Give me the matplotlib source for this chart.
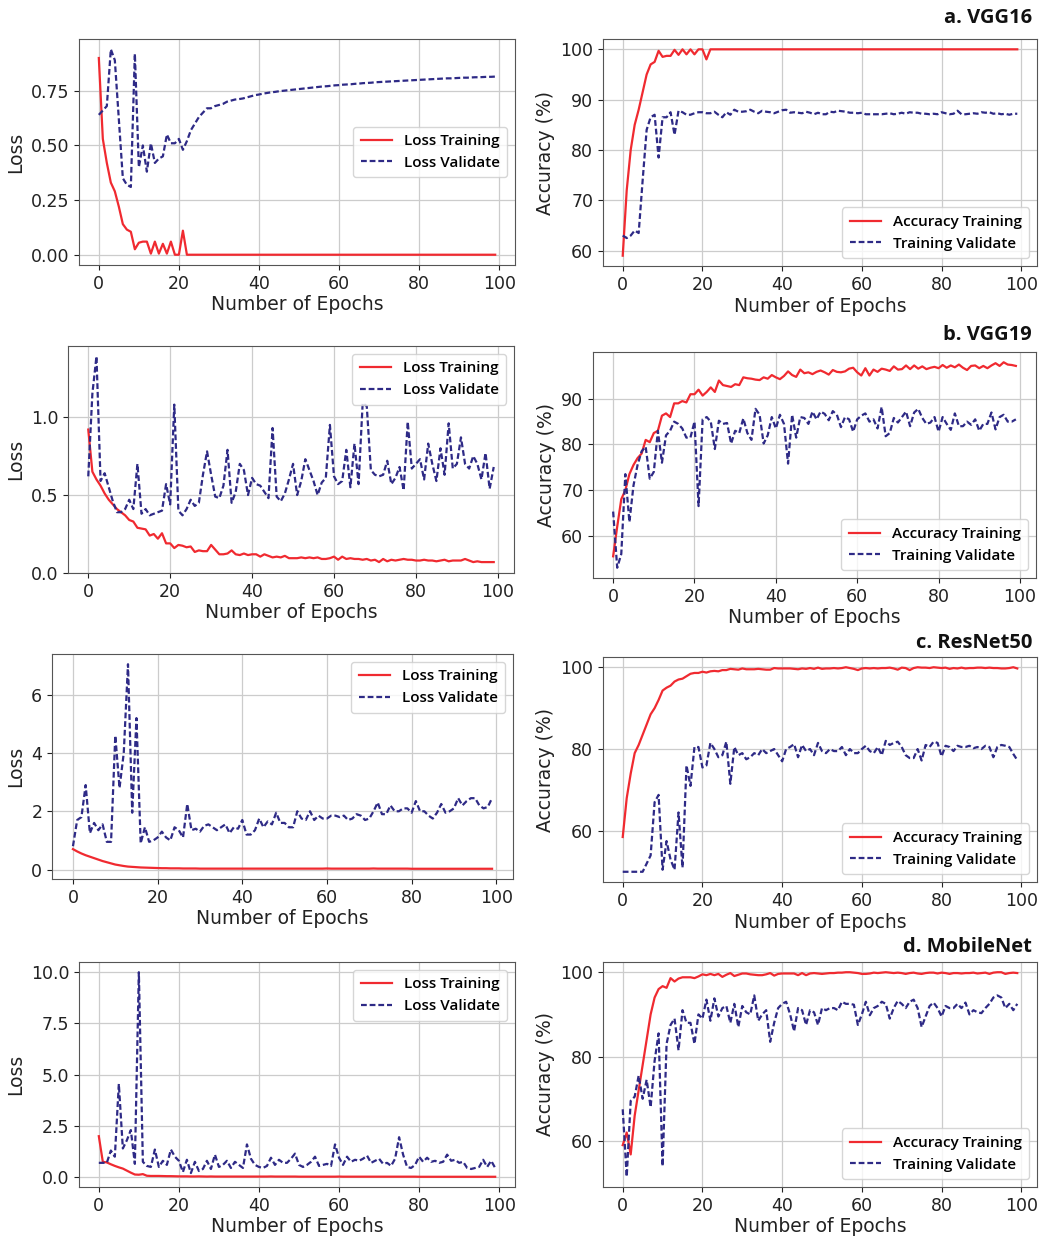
import matplotlib.pyplot as plt

# === data: 100 epochs per model ===
epochs = list(range(100))

vgg16_loss_train = [
    0.90, 0.53, 0.42, 0.33, 0.29, 0.22, 0.14, 0.115, 0.105, 0.025,
    0.055, 0.06, 0.06, 0.005, 0.06, 0.005, 0.05, 0.005, 0.06, 0.0,
    0.0, 0.11, 0.0, 0.0, 0.0, 0.0, 0.0, 0.0, 0.0, 0.0,
    0.0, 0.0, 0.0, 0.0, 0.0, 0.0, 0.0, 0.0, 0.0, 0.0,
    0.0, 0.0, 0.0, 0.0, 0.0, 0.0, 0.0, 0.0, 0.0, 0.0,
    0.0, 0.0, 0.0, 0.0, 0.0, 0.0, 0.0, 0.0, 0.0, 0.0,
    0.0, 0.0, 0.0, 0.0, 0.0, 0.0, 0.0, 0.0, 0.0, 0.0,
    0.0, 0.0, 0.0, 0.0, 0.0, 0.0, 0.0, 0.0, 0.0, 0.0,
    0.0, 0.0, 0.0, 0.0, 0.0, 0.0, 0.0, 0.0, 0.0, 0.0,
    0.0, 0.0, 0.0, 0.0, 0.0, 0.0, 0.0, 0.0, 0.0, 0.0,
]
vgg16_loss_val = [
    0.64, 0.66, 0.68, 0.94, 0.89, 0.62, 0.35, 0.32, 0.31, 0.92,
    0.40, 0.50, 0.38, 0.51, 0.42, 0.44, 0.45, 0.55, 0.51, 0.51,
    0.53, 0.48, 0.52, 0.57, 0.60, 0.63, 0.65, 0.67, 0.67, 0.68,
    0.685, 0.69, 0.70, 0.705, 0.71, 0.712, 0.715, 0.72, 0.725, 0.73,
    0.733, 0.737, 0.74, 0.743, 0.745, 0.748, 0.75, 0.752, 0.754, 0.756,
    0.758, 0.76, 0.762, 0.764, 0.766, 0.768, 0.77, 0.771, 0.773, 0.775,
    0.776, 0.778, 0.779, 0.78, 0.782, 0.783, 0.785, 0.786, 0.787, 0.789,
    0.79, 0.791, 0.792, 0.793, 0.794, 0.795, 0.796, 0.797, 0.798, 0.799,
    0.80, 0.801, 0.802, 0.803, 0.804, 0.805, 0.806, 0.807, 0.807, 0.808,
    0.809, 0.81, 0.81, 0.811, 0.812, 0.812, 0.813, 0.814, 0.814, 0.815,
]
vgg16_acc_train = [
    59, 72, 80, 85, 88, 91.5, 95, 97, 97.5, 99.7,
    98.5, 98.7, 98.7, 99.9, 98.9, 100, 99, 100, 99, 100,
    100, 98, 100, 100, 100, 100, 100, 100, 100, 100,
    100, 100, 100, 100, 100, 100, 100, 100, 100, 100,
    100, 100, 100, 100, 100, 100, 100, 100, 100, 100,
    100, 100, 100, 100, 100, 100, 100, 100, 100, 100,
    100, 100, 100, 100, 100, 100, 100, 100, 100, 100,
    100, 100, 100, 100, 100, 100, 100, 100, 100, 100,
    100, 100, 100, 100, 100, 100, 100, 100, 100, 100,
    100, 100, 100, 100, 100, 100, 100, 100, 100, 100,
]
vgg16_acc_val = [
    63, 62.5, 63, 64, 63.5, 74, 84, 86.5, 87, 78.5,
    86.5, 86.5, 87.5, 83, 87.8, 87.5, 87, 87, 87.3, 87.5,
    87.5, 87.3, 87.3, 87.6, 87.0, 86.5, 87.5, 87.0, 88, 87.6,
    87.6, 87.7, 88, 87.6, 87.3, 87.8, 87.6, 87.5, 87.3, 87.6,
    87.9, 88, 87.4, 87.5, 87.4, 87.3, 87.6, 87.4, 87.1, 87.4,
    87.1, 87.1, 87.6, 87.5, 87.8, 87.7, 87.6, 87.4, 87.4, 87.3,
    87.4, 87.1, 87.1, 87.1, 87.1, 87.1, 87.2, 87.3, 87.1, 87.2,
    87.4, 87.2, 87.5, 87.4, 87.4, 87.2, 87.2, 87.1, 87.2, 87.1,
    87.5, 87.3, 87.1, 87.2, 87.8, 87.1, 87.1, 87.2, 87.3, 87.2,
    87.5, 87.4, 87.5, 87.2, 87.3, 87.1, 87.2, 87.0, 87.2, 87.2,
]

vgg19_loss_train = [
    0.92, 0.65, 0.60, 0.56, 0.51, 0.47, 0.44, 0.41, 0.39, 0.37,
    0.34, 0.33, 0.29, 0.285, 0.28, 0.24, 0.25, 0.22, 0.255, 0.19,
    0.19, 0.16, 0.18, 0.175, 0.165, 0.17, 0.135, 0.145, 0.14, 0.14,
    0.18, 0.15, 0.12, 0.12, 0.125, 0.145, 0.12, 0.115, 0.125, 0.115,
    0.12, 0.12, 0.105, 0.12, 0.11, 0.10, 0.105, 0.10, 0.11, 0.095,
    0.095, 0.095, 0.10, 0.095, 0.10, 0.095, 0.10, 0.09, 0.09, 0.095,
    0.105, 0.085, 0.105, 0.09, 0.095, 0.09, 0.09, 0.085, 0.09, 0.08,
    0.085, 0.07, 0.09, 0.075, 0.085, 0.08, 0.085, 0.09, 0.085, 0.085,
    0.08, 0.08, 0.085, 0.08, 0.08, 0.075, 0.08, 0.085, 0.075, 0.08,
    0.08, 0.08, 0.09, 0.08, 0.07, 0.075, 0.07, 0.07, 0.07, 0.07,
]
vgg19_loss_val = [
    0.62, 1.15, 1.39, 0.59, 0.64, 0.55, 0.46, 0.39, 0.39, 0.41,
    0.47, 0.41, 0.70, 0.38, 0.41, 0.37, 0.38, 0.39, 0.40, 0.57,
    0.44, 1.08, 0.40, 0.37, 0.41, 0.47, 0.43, 0.45, 0.63, 0.78,
    0.63, 0.49, 0.48, 0.56, 0.79, 0.45, 0.52, 0.70, 0.66, 0.50,
    0.61, 0.57, 0.56, 0.52, 0.48, 0.93, 0.49, 0.46, 0.51, 0.60,
    0.70, 0.50, 0.59, 0.73, 0.66, 0.59, 0.50, 0.58, 0.61, 0.95,
    0.62, 0.57, 0.59, 0.79, 0.55, 0.83, 0.57, 1.09, 1.07, 0.66,
    0.63, 0.62, 0.63, 0.72, 0.57, 0.61, 0.68, 0.53, 0.97, 0.67,
    0.70, 0.73, 0.60, 0.83, 0.70, 0.59, 0.80, 0.63, 0.96, 0.67,
    0.70, 0.87, 0.70, 0.67, 0.75, 0.70, 0.60, 0.77, 0.54, 0.68,
]
vgg19_acc_train = [
    55.5, 62, 68, 70, 73.5, 75.5, 77, 78, 81, 80.5,
    82.5, 83, 86.3, 86.8, 86, 89, 89, 89.5, 89.2, 91,
    91, 92, 90.7, 91.5, 92.5, 91.5, 94, 93, 92.8, 92.6,
    93.2, 93, 94.7, 94.5, 94.4, 94.2, 94.1, 94.7, 94.4, 95.2,
    94.7, 94.3, 95.0, 96.0, 95.2, 94.8, 96.4, 95.6, 95.8, 95.4,
    95.9, 96.2, 95.8, 95.3, 96.3, 95.9, 95.8, 96.0, 96.6, 96.8,
    95.8, 95.1, 96.7, 95.1, 96.4, 95.9, 96.6, 96.4, 96.1, 97.1,
    96.4, 96.5, 97.3, 96.5, 97.3, 96.6, 97.1, 96.5, 96.8, 97.0,
    96.7, 97.4, 96.8, 97.3, 96.9, 97.5, 96.8, 96.3, 97.2, 97.3,
    96.7, 97.2, 96.7, 97.3, 97.8, 97.2, 98.0, 97.5, 97.4, 97.2,
]
vgg19_acc_val = [
    65.3, 53, 56, 73.5, 63, 71, 75.5, 78.5, 79.5, 72.5,
    74, 83, 76, 82, 83, 85, 84.5, 83.5, 81.5, 81.5,
    85, 66.5, 85.5, 86, 85, 79, 85.2, 84.5, 84.7, 80.2,
    83, 82.5, 85.7, 82.5, 81, 87.8, 86.5, 80.2, 82, 86,
    83.5, 86.5, 84.5, 75.8, 86.5, 81.5, 86, 85.8, 84.5, 87.2,
    85.5, 87.2, 86.7, 85.3, 87.3, 86.5, 83.8, 86, 85.5, 82.8,
    85.5, 86.3, 86.8, 85, 85.5, 83.5, 88.2, 81.8, 82.5, 85.8,
    84.8, 86, 87.2, 84, 87, 87.8, 85.8, 84.5, 84.8, 86,
    82.8, 86, 84.5, 83.2, 86.8, 84, 84, 85, 84.3, 85.5,
    83, 84.5, 84.5, 87, 83.3, 86, 86.5, 85, 85, 85.5,
]

resnet50_loss_train = [
    0.70, 0.62, 0.55, 0.49, 0.44, 0.39, 0.34, 0.29, 0.25, 0.21,
    0.17, 0.145, 0.12, 0.10, 0.09, 0.08, 0.07, 0.065, 0.06, 0.055,
    0.05, 0.045, 0.045, 0.04, 0.04, 0.04, 0.035, 0.035, 0.035, 0.035,
    0.03, 0.03, 0.03, 0.03, 0.03, 0.03, 0.03, 0.03, 0.03, 0.03,
    0.03, 0.03, 0.03, 0.03, 0.03, 0.03, 0.03, 0.03, 0.03, 0.03,
    0.03, 0.03, 0.03, 0.03, 0.03, 0.03, 0.03, 0.03, 0.03, 0.03,
    0.035, 0.03, 0.03, 0.03, 0.03, 0.03, 0.03, 0.03, 0.03, 0.03,
    0.03, 0.035, 0.03, 0.03, 0.03, 0.03, 0.03, 0.03, 0.03, 0.03,
    0.025, 0.025, 0.025, 0.025, 0.025, 0.025, 0.025, 0.025, 0.025, 0.025,
    0.025, 0.025, 0.025, 0.025, 0.025, 0.025, 0.025, 0.025, 0.025, 0.025,
]
resnet50_loss_val = [
    0.8, 1.7, 1.8, 2.9, 1.25, 1.6, 1.35, 1.55, 0.95, 0.95,
    4.6, 2.8, 4.0, 7.05, 1.95, 5.2, 0.9, 1.45, 0.95, 1.0,
    1.1, 1.3, 1.1, 1.0, 1.45, 1.35, 1.1, 2.25, 1.35, 1.4,
    1.3, 1.5, 1.55, 1.45, 1.35, 1.45, 1.55, 1.25, 1.45, 1.4,
    1.7, 1.2, 1.2, 1.35, 1.75, 1.45, 1.65, 1.55, 1.95, 1.6,
    1.6, 1.45, 1.45, 2.0, 1.75, 1.7, 2.0, 1.7, 1.85, 1.75,
    1.75, 1.85, 1.85, 1.8, 1.85, 1.7, 1.75, 1.9, 1.85, 1.7,
    1.75, 2.0, 2.3, 1.9, 1.9, 2.2, 2.0, 2.0, 2.1, 2.1,
    1.95, 2.35, 2.0, 2.0, 1.85, 1.75, 1.95, 2.25, 1.95, 2.0,
    2.1, 2.45, 2.2, 2.35, 2.45, 2.45, 2.2, 2.1, 2.15, 2.45,
]
resnet50_acc_train = [
    58.5, 68, 74, 79, 81, 83.5, 86, 88.5, 90, 92,
    94.3, 95, 95.5, 96.5, 97, 97.2, 97.8, 98.4, 98.6, 98.6,
    98.9, 98.7, 99.0, 99.1, 99.0, 99.3, 99.3, 99.6, 99.5, 99.4,
    99.7, 99.5, 99.5, 99.5, 99.6, 99.5, 99.4, 99.4, 99.8, 99.7,
    99.7, 99.7, 99.7, 99.6, 99.5, 99.7, 99.6, 99.8, 99.6, 99.9,
    99.6, 99.7, 99.7, 99.8, 99.7, 99.8, 100, 99.8, 99.6, 99.3,
    99.7, 99.8, 99.7, 99.8, 99.7, 99.8, 99.8, 99.9, 99.7, 99.4,
    99.9, 99.8, 99.3, 99.8, 100, 99.9, 99.9, 99.8, 100, 99.9,
    99.8, 99.9, 99.6, 99.8, 99.7, 99.9, 99.7, 99.8, 99.8, 99.9,
    99.9, 99.8, 99.9, 99.8, 99.8, 99.7, 99.7, 99.8, 100, 99.7,
]
resnet50_acc_val = [
    50, 50, 50, 50, 50, 50, 52, 54, 67, 68.8,
    50.5, 57.5, 53, 50.5, 64.5, 51, 76, 71, 80.5, 80.5,
    75.5, 76, 81.5, 80, 78, 78.5, 81.8, 71.5, 80.5, 78.5,
    79, 77.5, 78, 79, 78.5, 80, 79, 79.5, 80, 78.5,
    77, 80, 80.5, 81.2, 78, 81, 79.5, 80, 78.5, 81.5,
    79.5, 79, 80, 79.5, 79.5, 80.5, 78.5, 80, 79, 79,
    80, 80.8, 79.5, 79, 80.5, 78.5, 82, 81, 81.5, 81.8,
    80.5, 78.5, 77.8, 77.8, 80, 77.2, 81, 80.5, 81.8, 81.5,
    78.2, 80.8, 80.5, 79.5, 80.8, 80.5, 80.5, 80.8, 80.2, 80.5,
    80, 80.8, 80.5, 78, 80.5, 81, 80.8, 80.5, 78.8, 77.3,
]

mobilenet_loss_train = [
    2.0, 0.75, 0.72, 0.63, 0.55, 0.48, 0.42, 0.32, 0.22, 0.13,
    0.12, 0.15, 0.07, 0.06, 0.06, 0.06, 0.055, 0.05, 0.05, 0.045,
    0.04, 0.04, 0.04, 0.035, 0.035, 0.04, 0.035, 0.03, 0.035, 0.03,
    0.03, 0.03, 0.03, 0.03, 0.03, 0.03, 0.03, 0.03, 0.03, 0.03,
    0.03, 0.03, 0.03, 0.035, 0.03, 0.03, 0.03, 0.03, 0.03, 0.03,
    0.025, 0.025, 0.025, 0.025, 0.025, 0.025, 0.025, 0.025, 0.025, 0.025,
    0.03, 0.025, 0.025, 0.025, 0.025, 0.025, 0.025, 0.025, 0.025, 0.025,
    0.025, 0.025, 0.025, 0.025, 0.025, 0.025, 0.025, 0.025, 0.025, 0.025,
    0.02, 0.02, 0.02, 0.02, 0.02, 0.02, 0.02, 0.02, 0.02, 0.02,
    0.02, 0.02, 0.02, 0.02, 0.02, 0.02, 0.02, 0.02, 0.02, 0.02,
]
mobilenet_loss_val = [
    0.7, 0.7, 0.7, 1.3, 1.0, 4.55, 1.4, 1.8, 2.3, 0.65,
    10.0, 0.75, 0.55, 0.5, 1.35, 0.5, 0.8, 0.6, 1.35, 1.0,
    0.8, 0.25, 0.85, 0.2, 0.75, 0.3, 0.4, 0.8, 0.4, 1.1,
    0.5, 0.6, 0.8, 0.45, 0.75, 0.6, 0.45, 1.6, 0.9, 0.6,
    0.5, 0.45, 0.55, 0.95, 0.6, 0.85, 0.7, 0.7, 0.9, 1.15,
    0.6, 0.5, 0.6, 0.75, 1.0, 0.55, 0.6, 0.65, 0.55, 1.6,
    0.95, 0.6, 1.0, 0.75, 0.85, 0.8, 0.9, 1.05, 0.7, 0.8,
    0.9, 0.65, 0.7, 0.55, 0.9, 1.95, 1.1, 0.5, 0.45, 0.6,
    1.0, 0.75, 0.95, 0.75, 0.8, 0.7, 0.75, 1.1, 0.8, 0.85,
    0.7, 0.75, 0.45, 0.4, 0.45, 0.5, 0.85, 0.5, 0.8, 0.45,
]
mobilenet_acc_train = [
    59, 62, 56.8, 66, 72, 78, 84, 90, 94, 96,
    96.7, 96.3, 98.6, 97.8, 98.5, 98.8, 98.8, 98.8, 98.6, 99.0,
    99.5, 99.3, 99.6, 99.3, 99.6, 98.9, 99.4, 99.8, 99.1, 99.4,
    99.7, 99.7, 99.5, 99.4, 99.3, 99.3, 99.5, 99.8, 99.2, 99.6,
    99.7, 99.7, 99.7, 99.7, 99.3, 99.8, 99.3, 99.7, 99.8, 99.7,
    99.6, 99.7, 99.8, 99.8, 99.9, 99.9, 100, 100, 99.9, 99.8,
    99.6, 99.6, 99.7, 99.9, 99.8, 99.9, 100, 99.9, 99.8, 99.9,
    99.8, 99.6, 99.8, 99.9, 99.7, 99.6, 99.8, 99.9, 99.9, 99.7,
    99.9, 99.8, 99.6, 99.8, 99.8, 99.7, 99.8, 99.8, 99.9, 99.7,
    99.8, 99.9, 99.6, 99.9, 100, 100, 99.6, 99.8, 99.9, 99.8,
]
mobilenet_acc_val = [
    67.5, 51.5, 69.5, 70.5, 75.5, 70, 74.5, 68, 79, 85.5,
    54, 83, 87.5, 89, 81.5, 91, 88, 88, 83, 90,
    89, 93.5, 88.5, 93.8, 89.5, 91.5, 92, 88, 92.5, 87,
    92, 90.5, 90, 94.5, 88.5, 90, 91, 83.5, 88, 91.5,
    92.5, 93, 90, 86, 91.5, 91, 87.5, 91, 90.5, 87.5,
    91.5, 91, 91.5, 91.5, 91, 93, 92.5, 92.5, 92.3, 87.5,
    90, 93, 89.8, 91.5, 92, 93, 92.5, 89, 91.5, 93.2,
    92.5, 91.5, 93, 93.5, 91.5, 87, 89.5, 92, 92.8, 91.5,
    89.5, 92, 91.5, 91.5, 92.5, 91.5, 92.8, 90, 91, 90.5,
    90.3, 91.5, 92.5, 94, 94.5, 94, 91.5, 92.5, 91, 92.5,
]

model_titles = ["a. VGG16", "b. VGG19", "c. ResNet50", "d. MobileNet"]

loss_data = [
    (vgg16_loss_train, vgg16_loss_val),
    (vgg19_loss_train, vgg19_loss_val),
    (resnet50_loss_train, resnet50_loss_val),
    (mobilenet_loss_train, mobilenet_loss_val),
]
acc_data = [
    (vgg16_acc_train, vgg16_acc_val),
    (vgg19_acc_train, vgg19_acc_val),
    (resnet50_acc_train, resnet50_acc_val),
    (mobilenet_acc_train, mobilenet_acc_val),
]
loss_yticks = [[0, 0.25, 0.5, 0.75], [0, 0.5, 1.0], [0, 2, 4, 6], [0, 2.5, 5, 7.5, 10]]
acc_yticks = [[60, 70, 80, 90, 100], [60, 70, 80, 90], [60, 80, 100], [60, 80, 100]]
loss_fmt = ["{:.2f}", "{:.1f}", "{:.0f}", "{:.1f}"]
loss_legend_loc = ["center right", "upper right", "upper right", "upper right"]

# axes boxes in pixels: (left, top, right, bottom)
left_boxes = [(79, 39, 515, 265), (68, 346, 514, 573), (52, 654, 513, 879), (79, 962, 515, 1187)]
right_boxes = [(603, 39, 1037, 266), (593, 352, 1036, 578), (603, 657, 1037, 882), (603, 962, 1037, 1187)]
title_y = [18, 335, 643, 947]

W, H = 1052, 1236
RED = "#f02a30"
BLUE = "#2e2a86"
DASH = (2.6, 1.3)
LEG_FONT = {"family": "Open Sans", "size": 11, "weight": "semibold"}

fig = plt.figure(figsize=(W / 100, H / 100), dpi=100)


def make_ax(box):
    l, t, r, b = box
    return fig.add_axes([l / W, 1 - b / H, (r - l) / W, (b - t) / H])


def style_ax(ax):
    ax.grid(True, color="#cccccc", linewidth=0.9)
    ax.set_axisbelow(True)
    for s in ax.spines.values():
        s.set_color("#555555")
    ax.tick_params(labelsize=12.5, colors="#222222")
    ax.set_xticks([0, 20, 40, 60, 80, 100])
    ax.set_xlabel("Number of Epochs", fontsize=13.5, color="#222222", labelpad=2)


for i in range(4):
    # loss panel
    ax = make_ax(left_boxes[i])
    tr, va = loss_data[i]
    ax.plot(epochs, tr, color=RED, lw=1.6, label="Loss Training")
    ax.plot(epochs, va, color=BLUE, lw=1.6, ls="--", dashes=DASH, label="Loss Validate")
    style_ax(ax)
    ax.set_yticks(loss_yticks[i])
    ax.set_yticklabels([loss_fmt[i].format(v) for v in loss_yticks[i]])
    ax.set_ylabel("Loss", fontsize=13.5, color="#222222", labelpad=4)
    ax.legend(loc=loss_legend_loc[i], prop=LEG_FONT, handlelength=2.0, borderpad=0.5, framealpha=0.8)

    # accuracy panel
    ax = make_ax(right_boxes[i])
    tr, va = acc_data[i]
    ax.plot(epochs, tr, color=RED, lw=1.6, label="Accuracy Training")
    ax.plot(epochs, va, color=BLUE, lw=1.6, ls="--", dashes=DASH, label="Training Validate")
    style_ax(ax)
    ax.set_yticks(acc_yticks[i])
    ax.set_ylabel("Accuracy (%)", fontsize=13.5, color="#222222", labelpad=4)
    ax.legend(loc="lower right", prop=LEG_FONT, handlelength=2.0, borderpad=0.5, framealpha=0.8)

    fig.text(1032 / W, 1 - title_y[i] / H, model_titles[i], ha="right", va="center",
             fontsize=14.5, fontweight="bold", family="Open Sans", color="#111111")

fig.savefig("out.png", dpi=100)
